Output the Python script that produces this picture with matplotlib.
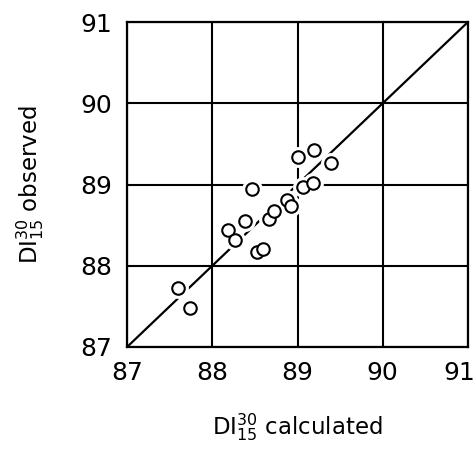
import matplotlib
matplotlib.use("Agg")
import matplotlib.pyplot as plt
import matplotlib.transforms as mtransforms

calc = [87.60, 87.74, 88.18, 88.27, 88.38, 88.47, 88.53, 88.59, 88.66, 88.72,
        88.88, 88.92, 89.00, 89.06, 89.18, 89.19, 89.39]
obs = [87.73, 87.48, 88.44, 88.32, 88.55, 88.94, 88.17, 88.21, 88.58, 88.67,
       88.81, 88.73, 89.34, 88.97, 89.02, 89.43, 89.27]
ticks = [87, 88, 89, 90, 91]
line_ends = [87, 91]

plt.rcParams['font.family'] = ['DejaVu Sans']
plt.rcParams['mathtext.fontset'] = 'dejavusans'

fig = plt.figure(figsize=(4.76, 4.5), dpi=100)
ax = fig.add_axes([0.267, 0.229, 0.716, 0.722])
ax.set_xlim(87, 91)
ax.set_ylim(87, 91)
ax.tick_params(axis='x', length=0, labelsize=18, pad=10)
ax.tick_params(axis='y', length=0, labelsize=18, pad=11)
ax.set_xticks(ticks)
ax.set_yticks(ticks)
ax.set_xticklabels([str(t) for t in ticks])
ax.set_yticklabels([str(t) for t in ticks])
xl = ax.get_xticklabels()
xl[-1].set_horizontalalignment('right')
xl[-1].set_transform(xl[-1].get_transform() +
                     mtransforms.ScaledTranslation(5 / 72, 0, fig.dpi_scale_trans))
for s in ax.spines.values():
    s.set_linewidth(1.6)
ax.grid(True, color='black', linewidth=1.5)
ax.set_axisbelow(True)
ax.plot(line_ends, line_ends, color='black', linewidth=1.6, zorder=2)
# white halos around markers (gaps in lines as in original)
ax.plot(calc, obs, linestyle='none', marker='o', markersize=14,
        markerfacecolor='white', markeredgecolor='white', zorder=3)
ax.plot(calc, obs, linestyle='none', marker='o', markersize=9,
        markerfacecolor='white', markeredgecolor='black', markeredgewidth=1.5, zorder=4)
ax.set_xlabel(r'DI$^{30}_{15}$ calculated', fontsize=16.5, labelpad=19)
ax.set_ylabel(r'DI$^{30}_{15}$ observed', fontsize=16.5, labelpad=24)
fig.savefig('out.png', dpi=100)
